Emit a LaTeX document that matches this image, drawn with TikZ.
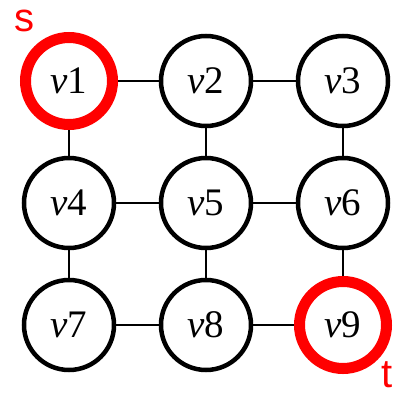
\documentclass[tikz,border=0pt]{standalone}
\usepackage{xcolor}
\usepackage{fontspec}
\setmainfont{Liberation Serif}
\setsansfont{Liberation Sans}
\usepackage{tikz}
\usetikzlibrary{automata, positioning}

\begin{document}
\begin{tikzpicture}[node distance=122pt and 137pt, on grid, auto,
    every state/.style={draw=black, line width=4.5pt, minimum size=90pt, inner sep=0pt,
      font=\fontsize{39}{39}\selectfont},
    endpoint/.style={draw=red, line width=11pt, minimum size=87pt},
    tag/.style={text=red, inner sep=0pt, font=\sffamily\fontsize{40}{40}\selectfont}]
  \useasboundingbox (-69pt,81pt) rectangle (332pt,-318pt);
  \node[state, endpoint] (v1) {\textit{v}1};
  \node[state] (v2) [right=of v1] {\textit{v}2};
  \node[state] (v3) [right=of v2] {\textit{v}3};
  \node[state] (v4) [below=of v1] {\textit{v}4};
  \node[state] (v5) [right=of v4] {\textit{v}5};
  \node[state] (v6) [right=of v5] {\textit{v}6};
  \node[state] (v7) [below=of v4] {\textit{v}7};
  \node[state] (v8) [right=of v7] {\textit{v}8};
  \node[state, endpoint] (v9) [right=of v8] {\textit{v}9};
  \node[tag] (s) [above left=60pt and 44pt of v1] {s};
  \node[tag] (t) [below right=50pt and 44pt of v9] {t};

  \path[line width=2pt]
    (v1) edge (v2)
    (v2) edge (v3)
    (v4) edge (v5)
    (v5) edge (v6)
    (v7) edge (v8)
    (v8) edge (v9)

    (v1) edge (v4)
    (v4) edge (v7)
    (v2) edge (v5)
    (v5) edge (v8)
    (v3) edge (v6)
    (v6) edge (v9);
\end{tikzpicture}
\end{document}
